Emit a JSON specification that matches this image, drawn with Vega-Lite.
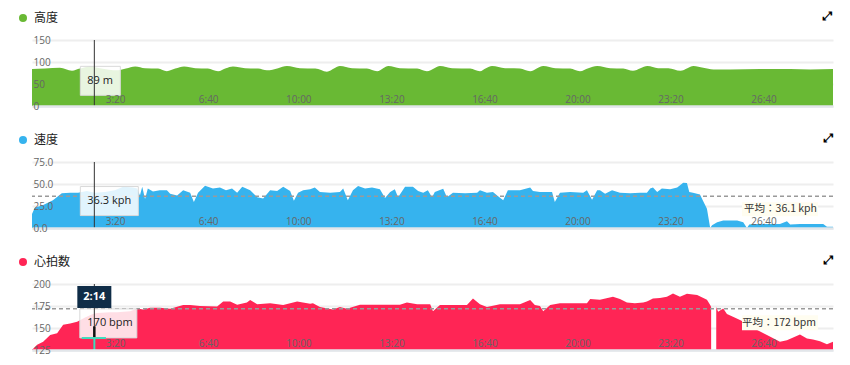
{
  "$schema": "https://vega.github.io/schema/vega-lite/v6.json",
  "background": "white",
  "padding": {"left": 17, "top": 10, "right": 17, "bottom": 0},
  "spacing": 21,
  "config": {
    "view": {"stroke": null},
    "font": "Open Sans",
    "axis": {"labelFont": "Open Sans", "labelFontSize": 10, "labelColor": "#666", "title": null},
    "legend": {"orient": "none", "legendX": -15, "legendY": -28, "padding": 0, "symbolType": "circle", "symbolSize": 64, "symbolStrokeWidth": 0, "symbolOpacity": 1, "labelFont": "Noto Sans CJK JP", "labelFontSize": 12, "labelColor": "#222", "labelOffset": 5}
  },
  "resolve": {"scale": {"fill": "independent"}, "legend": {"fill": "independent"}},
  "datasets": {
    "alt": [
      {"t":0,"v":84},{"t":28,"v":85},{"t":60,"v":87},{"t":86,"v":80},{"t":103,"v":85},{"t":125,"v":90},{"t":146,"v":86},{"t":185,"v":81},{"t":202,"v":85},{"t":222,"v":90},{"t":243,"v":86},{"t":271,"v":85},{"t":290,"v":79},{"t":308,"v":85},{"t":327,"v":90},{"t":351,"v":86},{"t":378,"v":85},{"t":400,"v":79},{"t":417,"v":86},{"t":432,"v":90},{"t":458,"v":86},{"t":486,"v":85},{"t":505,"v":81},{"t":529,"v":86},{"t":548,"v":91},{"t":576,"v":86},{"t":609,"v":85},{"t":634,"v":78},{"t":650,"v":86},{"t":662,"v":91},{"t":688,"v":86},{"t":720,"v":85},{"t":742,"v":79},{"t":755,"v":86},{"t":766,"v":91},{"t":791,"v":86},{"t":828,"v":85},{"t":849,"v":79},{"t":865,"v":86},{"t":877,"v":91},{"t":903,"v":86},{"t":942,"v":85},{"t":963,"v":79},{"t":976,"v":86},{"t":989,"v":91},{"t":1017,"v":86},{"t":1049,"v":85},{"t":1071,"v":79},{"t":1086,"v":86},{"t":1099,"v":91},{"t":1125,"v":86},{"t":1157,"v":85},{"t":1178,"v":79},{"t":1196,"v":86},{"t":1215,"v":91},{"t":1243,"v":86},{"t":1271,"v":85},{"t":1292,"v":80},{"t":1308,"v":86},{"t":1323,"v":91},{"t":1346,"v":86},{"t":1368,"v":86},{"t":1394,"v":80},{"t":1409,"v":86},{"t":1422,"v":91},{"t":1443,"v":87},{"t":1465,"v":83},{"t":1501,"v":83},{"t":1566,"v":84},{"t":1630,"v":84},{"t":1673,"v":83},{"t":1722,"v":84}
    ],
    "spd": [
      {"t":0,"v":16},{"t":6,"v":23},{"t":24,"v":26},{"t":45,"v":31.5},{"t":64,"v":39.5},{"t":82,"v":40},{"t":99,"v":40},{"t":118,"v":42},{"t":135,"v":40},{"t":157,"v":41},{"t":178,"v":43},{"t":196,"v":47},{"t":217,"v":46},{"t":226,"v":45},{"t":232,"v":37},{"t":237,"v":47},{"t":243,"v":33},{"t":249,"v":45},{"t":260,"v":41.5},{"t":275,"v":43},{"t":290,"v":43},{"t":297,"v":39},{"t":312,"v":37},{"t":325,"v":43},{"t":340,"v":40},{"t":348,"v":29.5},{"t":357,"v":40},{"t":372,"v":48},{"t":389,"v":45},{"t":404,"v":46},{"t":417,"v":43},{"t":430,"v":45},{"t":441,"v":40},{"t":452,"v":47},{"t":469,"v":43},{"t":484,"v":35},{"t":497,"v":33.5},{"t":512,"v":43},{"t":527,"v":42},{"t":540,"v":47},{"t":555,"v":42},{"t":563,"v":31},{"t":572,"v":40},{"t":583,"v":43},{"t":598,"v":44},{"t":608,"v":46},{"t":619,"v":41},{"t":641,"v":40},{"t":662,"v":41},{"t":669,"v":45},{"t":679,"v":31.5},{"t":690,"v":43},{"t":701,"v":47.6},{"t":716,"v":45},{"t":731,"v":46},{"t":748,"v":44},{"t":759,"v":34},{"t":770,"v":41},{"t":780,"v":44},{"t":787,"v":35},{"t":802,"v":47},{"t":819,"v":47},{"t":830,"v":42},{"t":841,"v":40},{"t":851,"v":43},{"t":860,"v":35},{"t":866,"v":41},{"t":884,"v":44.6},{"t":892,"v":35},{"t":905,"v":40},{"t":931,"v":39.5},{"t":957,"v":40},{"t":963,"v":43},{"t":978,"v":40},{"t":991,"v":41},{"t":1002,"v":36},{"t":1013,"v":31.5},{"t":1023,"v":43},{"t":1049,"v":43},{"t":1071,"v":46},{"t":1077,"v":42},{"t":1092,"v":41},{"t":1107,"v":41},{"t":1118,"v":41},{"t":1124,"v":29.5},{"t":1135,"v":40},{"t":1157,"v":41},{"t":1185,"v":40},{"t":1193,"v":43},{"t":1204,"v":32},{"t":1215,"v":43},{"t":1221,"v":43},{"t":1232,"v":39},{"t":1247,"v":43},{"t":1264,"v":40},{"t":1286,"v":39.5},{"t":1307,"v":40},{"t":1322,"v":40},{"t":1329,"v":45},{"t":1335,"v":46},{"t":1344,"v":41},{"t":1354,"v":45},{"t":1372,"v":44},{"t":1387,"v":46},{"t":1400,"v":51.5},{"t":1408,"v":51},{"t":1413,"v":41},{"t":1421,"v":40},{"t":1436,"v":38},{"t":1442,"v":31.5},{"t":1451,"v":22},{"t":1458,"v":0},{"t":1462,"v":3},{"t":1473,"v":6.5},{"t":1486,"v":8.4},{"t":1501,"v":8.6},{"t":1516,"v":8.4},{"t":1529,"v":6.5},{"t":1537,"v":0},{"t":1542,"v":4},{"t":1550,"v":4.6},{"t":1576,"v":4.6},{"t":1608,"v":4.6},{"t":1623,"v":7.6},{"t":1630,"v":4},{"t":1651,"v":4.6},{"t":1677,"v":4.6},{"t":1701,"v":4.6},{"t":1709,"v":1.5},{"t":1722,"v":1.5}
    ],
    "hr": [
      {"t":0,"v":125},{"t":11,"v":131},{"t":24,"v":134.5},{"t":39,"v":142},{"t":54,"v":144},{"t":67,"v":153.7},{"t":82,"v":155},{"t":97,"v":157},{"t":114,"v":162},{"t":131,"v":166},{"t":140,"v":167},{"t":168,"v":168},{"t":183,"v":168},{"t":211,"v":169},{"t":226,"v":172.3},{"t":239,"v":171},{"t":254,"v":173},{"t":275,"v":173},{"t":297,"v":172},{"t":325,"v":176},{"t":340,"v":176},{"t":361,"v":175},{"t":398,"v":174.5},{"t":411,"v":180},{"t":426,"v":180},{"t":441,"v":176.5},{"t":462,"v":179},{"t":469,"v":181.8},{"t":484,"v":177},{"t":512,"v":178},{"t":540,"v":176},{"t":570,"v":180},{"t":598,"v":177.5},{"t":604,"v":178},{"t":619,"v":174},{"t":647,"v":171},{"t":662,"v":174},{"t":677,"v":172},{"t":705,"v":176.5},{"t":748,"v":176.5},{"t":791,"v":176.5},{"t":806,"v":179},{"t":828,"v":177},{"t":856,"v":177},{"t":862,"v":169},{"t":877,"v":176},{"t":909,"v":176},{"t":935,"v":176},{"t":948,"v":183.6},{"t":963,"v":177},{"t":978,"v":174},{"t":1006,"v":177},{"t":1049,"v":177},{"t":1071,"v":181.8},{"t":1081,"v":176},{"t":1092,"v":175},{"t":1099,"v":169},{"t":1114,"v":176},{"t":1135,"v":178},{"t":1167,"v":178},{"t":1193,"v":178},{"t":1200,"v":183},{"t":1221,"v":182},{"t":1249,"v":185.6},{"t":1264,"v":183},{"t":1279,"v":179},{"t":1296,"v":178},{"t":1314,"v":179},{"t":1322,"v":180},{"t":1335,"v":183.6},{"t":1350,"v":184},{"t":1365,"v":185.6},{"t":1378,"v":189.3},{"t":1393,"v":185.6},{"t":1408,"v":189},{"t":1430,"v":187.5},{"t":1451,"v":182},{"t":1458,"v":176},{"t":1460,"v":174},{"t":1463,"v":null},{"t":1471,"v":174},{"t":1475,"v":168.5},{"t":1486,"v":172.3},{"t":1494,"v":166},{"t":1507,"v":162.8},{"t":1522,"v":159},{"t":1537,"v":155},{"t":1559,"v":147.7},{"t":1580,"v":142},{"t":1608,"v":134.4},{"t":1623,"v":136},{"t":1651,"v":142.7},{"t":1666,"v":138},{"t":1679,"v":137},{"t":1694,"v":135},{"t":1709,"v":131.4},{"t":1722,"v":134.4}
    ],
    "cursor": [
      {"t": 134, "alt": 89, "spd": 36.3, "hr": 170, "altLabel": "89 m", "spdLabel": "36.3 kph", "hrLabel": "170 bpm", "time": "2:14", "tA": 107, "tB": 159, "hrLow": 125, "hrMark": 138.6, "hrHigh": 151.9}
    ],
    "spdAvg": [{"avg": 36.1, "label": "平均：36.1 kph"}],
    "hrAvg": [{"avg": 172, "label": "平均：172 bpm"}]
  },
  "vconcat": [
    {
      "width": 801, "height": 66,
      "title": {"text": "⤢", "anchor": "end", "offset": -11, "fontSize": 12, "font": "DejaVu Sans", "fontWeight": "bold", "color": "#000"},
      "resolve": {"axis": {"y": "independent"}},
      "layer": [
        {
          "data": {"name": "alt"},
          "mark": {"type": "area", "interpolate": "monotone", "clip": true},
          "encoding": {
            "x": {"field": "t", "type": "quantitative", "scale": {"domain": [0, 1722], "nice": false, "zero": false},
              "axis": {"values": [200,400,600,800,1000,1200,1400,1600], "labelExpr": "floor(datum.value/60) + ':' + (datum.value % 60 < 10 ? '0' : '') + (datum.value % 60)", "labelAlign": "right", "labelBaseline": "middle", "labelPadding": -7, "ticks": false, "tickSize": 0, "grid": false, "domain": true, "domainColor": "#e2e6ea", "domainWidth": 2.5, "zindex": 1, "labelFlush": false, "labelOverlap": false}},
            "y": {"field": "v", "type": "quantitative", "scale": {"domain": [0, 150], "nice": false},
              "axis": {"orient": "left", "values": [0,50,100,150], "grid": true, "gridColor": "#eeeeee", "gridWidth": 2, "labels": false, "ticks": false, "tickSize": 0, "domain": false, "zindex": 0}},
            "fill": {"datum": "高度", "type": "nominal", "scale": {"range": ["#69b934"]},
              "legend": {"title": null, "encode": {"symbols": {"update": {"fill": {"value": "#5cb320"}}}}}}
          }
        },
        {
          "data": {"name": "cursor"},
          "mark": {"type": "rect", "width": 40, "height": 29, "xOffset": 6, "yOffset": 14, "fill": "#ffffff", "fillOpacity": 0.85, "stroke": "#d9d9d9", "strokeWidth": 1},
          "encoding": {"x": {"field": "t", "type": "quantitative"}, "y": {"field": "alt", "type": "quantitative", "axis": null}}
        },
        {
          "data": {"name": "cursor"},
          "mark": {"type": "text", "align": "left", "baseline": "middle", "dx": -7, "dy": 14, "fontSize": 11, "color": "#222", "font": "Open Sans"},
          "encoding": {"x": {"field": "t", "type": "quantitative"}, "y": {"field": "alt", "type": "quantitative",
            "axis": {"orient": "left", "values": [0,50,100,150], "format": "d", "grid": false, "labelAlign": "left", "labelPadding": -1, "ticks": false, "tickSize": 0, "domain": false, "zindex": 1, "labelOverlap": false, "labelFlush": false}}, "text": {"field": "altLabel"}}
        },
        {
          "data": {"name": "cursor"},
          "mark": {"type": "rule", "color": "#333", "strokeWidth": 1},
          "encoding": {"x": {"field": "t", "type": "quantitative"}}
        }
      ]
    },
    {
      "width": 801, "height": 66,
      "title": {"text": "⤢", "anchor": "end", "offset": -11, "fontSize": 12, "font": "DejaVu Sans", "fontWeight": "bold", "color": "#000"},
      "resolve": {"axis": {"y": "independent"}},
      "layer": [
        {
          "data": {"name": "spd"},
          "mark": {"type": "area", "clip": true},
          "encoding": {
            "x": {"field": "t", "type": "quantitative", "scale": {"domain": [0, 1722], "nice": false, "zero": false},
              "axis": {"values": [200,400,600,800,1000,1200,1400,1600], "labelExpr": "floor(datum.value/60) + ':' + (datum.value % 60 < 10 ? '0' : '') + (datum.value % 60)", "labelAlign": "right", "labelBaseline": "middle", "labelPadding": -7, "ticks": false, "tickSize": 0, "grid": false, "domain": true, "domainColor": "#e2e6ea", "domainWidth": 2.5, "zindex": 1, "labelFlush": false, "labelOverlap": false}},
            "y": {"field": "v", "type": "quantitative", "scale": {"domain": [0, 75], "nice": false},
              "axis": {"orient": "left", "values": [0,25,50,75], "grid": true, "gridColor": "#eeeeee", "gridWidth": 2, "labels": false, "ticks": false, "tickSize": 0, "domain": false, "zindex": 0}},
            "fill": {"datum": "速度", "type": "nominal", "scale": {"range": ["#36b3ee"]},
              "legend": {"title": null, "encode": {"symbols": {"update": {"fill": {"value": "#1aa3e6"}}}}}}
          }
        },
        {
          "data": {"name": "spdAvg"},
          "mark": {"type": "rule", "color": "#9a9a9a", "strokeDash": [4, 3], "strokeWidth": 1.5},
          "encoding": {"y": {"field": "avg", "type": "quantitative", "axis": null}}
        },
        {
          "data": {"name": "spdAvg"},
          "mark": {"type": "rect", "width": 76, "height": 14, "xOffset": -53, "yOffset": 13, "fill": "#fffdf0"},
          "encoding": {"x": {"datum": 1722, "type": "quantitative"}, "y": {"field": "avg", "type": "quantitative", "axis": null}}
        },
        {
          "data": {"name": "spdAvg"},
          "mark": {"type": "text", "align": "right", "baseline": "middle", "dx": -16, "dy": 13, "fontSize": 10.5, "color": "#333", "font": "Noto Sans CJK JP"},
          "encoding": {"x": {"datum": 1722, "type": "quantitative"}, "y": {"field": "avg", "type": "quantitative", "axis": null}, "text": {"field": "label"}}
        },
        {
          "data": {"name": "cursor"},
          "mark": {"type": "rect", "width": 58, "height": 29, "xOffset": 15, "yOffset": 5, "fill": "#ffffff", "fillOpacity": 0.85, "stroke": "#d9d9d9", "strokeWidth": 1},
          "encoding": {"x": {"field": "t", "type": "quantitative"}, "y": {"field": "spd", "type": "quantitative", "axis": null}}
        },
        {
          "data": {"name": "cursor"},
          "mark": {"type": "text", "align": "left", "baseline": "middle", "dx": -7, "dy": 5, "fontSize": 11, "color": "#222", "font": "Open Sans"},
          "encoding": {"x": {"field": "t", "type": "quantitative"}, "y": {"field": "spd", "type": "quantitative",
            "axis": {"orient": "left", "values": [0,25,50,75], "format": ".1f", "grid": false, "labelAlign": "left", "labelPadding": -1, "ticks": false, "tickSize": 0, "domain": false, "zindex": 1, "labelOverlap": false, "labelFlush": false}}, "text": {"field": "spdLabel"}}
        },
        {
          "data": {"name": "cursor"},
          "mark": {"type": "rule", "color": "#333", "strokeWidth": 1},
          "encoding": {"x": {"field": "t", "type": "quantitative"}}
        }
      ]
    },
    {
      "width": 801, "height": 66,
      "title": {"text": "⤢", "anchor": "end", "offset": -11, "fontSize": 12, "font": "DejaVu Sans", "fontWeight": "bold", "color": "#000"},
      "resolve": {"axis": {"y": "independent"}},
      "layer": [
        {
          "data": {"name": "hr"},
          "mark": {"type": "area", "clip": true, "invalid": "break-paths-show-domains"},
          "encoding": {
            "x": {"field": "t", "type": "quantitative", "scale": {"domain": [0, 1722], "nice": false, "zero": false},
              "axis": {"values": [200,400,600,800,1000,1200,1400,1600], "labelExpr": "floor(datum.value/60) + ':' + (datum.value % 60 < 10 ? '0' : '') + (datum.value % 60)", "labelAlign": "right", "labelBaseline": "middle", "labelPadding": -7, "ticks": false, "tickSize": 0, "grid": false, "domain": true, "domainColor": "#e2e6ea", "domainWidth": 2.5, "zindex": 1, "labelFlush": false, "labelOverlap": false}},
            "y": {"field": "v", "type": "quantitative", "scale": {"domain": [125, 200], "nice": false, "zero": false},
              "axis": {"orient": "left", "values": [125,150,175,200], "grid": true, "gridColor": "#eeeeee", "gridWidth": 2, "labels": false, "ticks": false, "tickSize": 0, "domain": false, "zindex": 0}},
            "fill": {"datum": "心拍数", "type": "nominal", "scale": {"range": ["#ff2555"]},
              "legend": {"title": null, "encode": {"symbols": {"update": {"fill": {"value": "#ee1144"}}}}}}
          }
        },
        {
          "data": {"name": "hrAvg"},
          "mark": {"type": "rule", "color": "#9a9a9a", "strokeDash": [4, 3], "strokeWidth": 1.5},
          "encoding": {"y": {"field": "avg", "type": "quantitative", "axis": null}}
        },
        {
          "data": {"name": "hrAvg"},
          "mark": {"type": "rect", "width": 76, "height": 15, "xOffset": -53, "yOffset": 14, "fill": "#fffdf0"},
          "encoding": {"x": {"datum": 1722, "type": "quantitative"}, "y": {"field": "avg", "type": "quantitative", "axis": null}}
        },
        {
          "data": {"name": "hrAvg"},
          "mark": {"type": "text", "align": "right", "baseline": "middle", "dx": -17, "dy": 14, "fontSize": 10.5, "color": "#333", "font": "Noto Sans CJK JP"},
          "encoding": {"x": {"datum": 1722, "type": "quantitative"}, "y": {"field": "avg", "type": "quantitative", "axis": null}, "text": {"field": "label"}}
        },
        {
          "data": {"name": "cursor"},
          "mark": {"type": "rect", "width": 57, "height": 29, "xOffset": 14, "yOffset": 13, "fill": "#ffffff", "fillOpacity": 0.85, "stroke": "#d9d9d9", "strokeWidth": 1},
          "encoding": {"x": {"field": "t", "type": "quantitative"}, "y": {"field": "hr", "type": "quantitative", "axis": null}}
        },
        {
          "data": {"name": "cursor"},
          "mark": {"type": "text", "align": "left", "baseline": "middle", "dx": -7, "dy": 13, "fontSize": 11, "color": "#222", "font": "Open Sans"},
          "encoding": {"x": {"field": "t", "type": "quantitative"}, "y": {"field": "hr", "type": "quantitative",
            "axis": {"orient": "left", "values": [125,150,175,200], "format": "d", "grid": false, "labelAlign": "left", "labelPadding": -1, "ticks": false, "tickSize": 0, "domain": false, "zindex": 1, "labelOverlap": false, "labelFlush": false}}, "text": {"field": "hrLabel"}}
        },
        {
          "data": {"name": "cursor"},
          "mark": {"type": "rule", "color": "#333", "strokeWidth": 1},
          "encoding": {"x": {"field": "t", "type": "quantitative"}}
        },
        {
          "data": {"name": "cursor"},
          "mark": {"type": "rule", "color": "#111", "strokeWidth": 2.5},
          "encoding": {"x": {"field": "t", "type": "quantitative"}, "y": {"field": "hrHigh", "type": "quantitative", "axis": null}, "y2": {"field": "hrMark"}}
        },
        {
          "data": {"name": "cursor"},
          "mark": {"type": "rule", "color": "#3fdcbc", "strokeWidth": 2},
          "encoding": {"x": {"field": "tA", "type": "quantitative"}, "x2": {"field": "tB"}, "y": {"field": "hrMark", "type": "quantitative", "axis": null}}
        },
        {
          "data": {"name": "cursor"},
          "mark": {"type": "rule", "color": "#3fdcbc", "strokeWidth": 2},
          "encoding": {"x": {"field": "t", "type": "quantitative"}, "y": {"field": "hrMark", "type": "quantitative", "axis": null}, "y2": {"field": "hrLow"}}
        },
        {
          "data": {"name": "cursor"},
          "mark": {"type": "rect", "width": 34, "height": 22, "yOffset": 13, "fill": "#0f2c47"},
          "encoding": {"x": {"field": "t", "type": "quantitative"}, "y": {"datum": 200, "type": "quantitative", "axis": null}}
        },
        {
          "data": {"name": "cursor"},
          "mark": {"type": "text", "align": "center", "baseline": "middle", "dy": 13, "fontSize": 11, "fontWeight": "bold", "color": "#ffffff", "font": "Open Sans"},
          "encoding": {"x": {"field": "t", "type": "quantitative"}, "y": {"datum": 200, "type": "quantitative", "axis": null}, "text": {"field": "time"}}
        }
      ]
    }
  ]
}
